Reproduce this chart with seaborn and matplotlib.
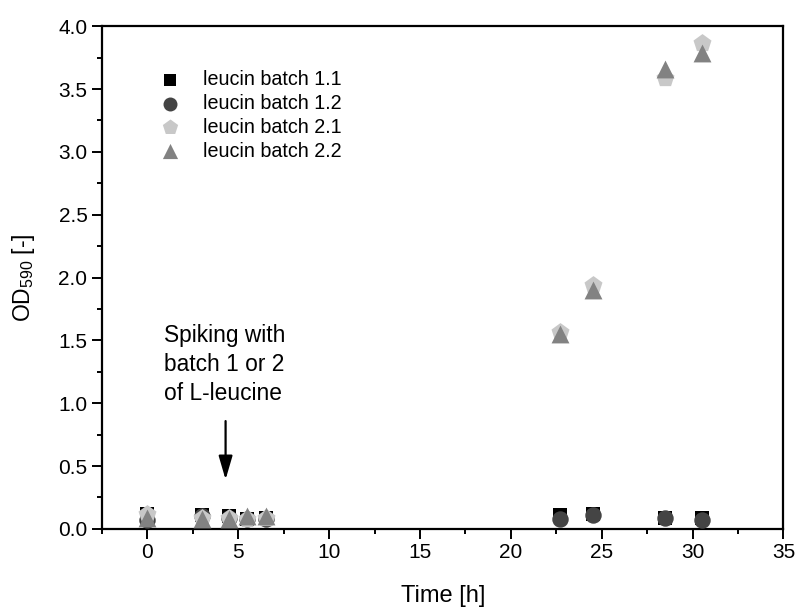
import numpy as np
import pandas as pd
import matplotlib
matplotlib.use("Agg")
import matplotlib.pyplot as plt
from matplotlib.ticker import MultipleLocator, FormatStrFormatter
import seaborn as sns

# Sampling times [h]
time_h = [0, 3, 4.5, 5.5, 6.5, 22.7, 24.5, 28.5, 30.5]

# OD590 per culture
od_batch_1_1 = [0.12, 0.11, 0.10, 0.08, 0.09, 0.11, 0.12, 0.09, 0.09]
od_batch_1_2 = [0.07, 0.10, 0.09, 0.08, 0.08, 0.08, 0.11, 0.09, 0.07]
od_batch_2_1 = [0.12, 0.09, 0.09, 0.08, 0.09, 1.57, 1.94, 3.59, 3.87]
od_batch_2_2 = [0.09, 0.08, 0.08, 0.10, 0.10, 1.55, 1.90, 3.66, 3.79]

series_names = ["leucin batch 1.1", "leucin batch 1.2",
                "leucin batch 2.1", "leucin batch 2.2"]
series_values = [od_batch_1_1, od_batch_1_2, od_batch_2_1, od_batch_2_2]

df = pd.DataFrame({
    "time": np.tile(time_h, len(series_names)),
    "od": np.concatenate(series_values),
    "series": np.repeat(series_names, len(time_h)),
})

sns.set_theme(style="white")
plt.rcParams["font.family"] = ["Liberation Sans", "DejaVu Sans"]
plt.rcParams["mathtext.fontset"] = "custom"
plt.rcParams["mathtext.rm"] = "Liberation Sans"
plt.rcParams["mathtext.it"] = "Liberation Sans:italic"
for key in ["text.color", "axes.labelcolor", "xtick.color", "ytick.color"]:
    plt.rcParams[key] = "black"

palette = {
    "leucin batch 1.1": "#000000",
    "leucin batch 1.2": "#444444",
    "leucin batch 2.1": "#c8c8c8",
    "leucin batch 2.2": "#828282",
}
markers = {
    "leucin batch 1.1": "s",
    "leucin batch 1.2": "o",
    "leucin batch 2.1": "p",
    "leucin batch 2.2": "^",
}
sizes = {"s": 115, "o": 140, "p": 185, "^": 165}

fig = plt.figure(figsize=(7.97, 6.10), dpi=100)
ax = fig.add_axes([0.128, 0.133, 0.855, 0.824])

for name in series_names:
    sub = df[df["series"] == name]
    sns.scatterplot(data=sub, x="time", y="od", ax=ax,
                    color=palette[name], marker=markers[name],
                    s=sizes[markers[name]], linewidth=0, label=name, zorder=3)

ax.set_xlim(-2.5, 35)
ax.set_ylim(0.0, 4.0)
ax.xaxis.set_major_locator(MultipleLocator(5))
ax.xaxis.set_minor_locator(MultipleLocator(2.5))
ax.yaxis.set_major_locator(MultipleLocator(0.5))
ax.yaxis.set_minor_locator(MultipleLocator(0.25))
ax.yaxis.set_major_formatter(FormatStrFormatter("%.1f"))

for side in ["left", "bottom", "top", "right"]:
    ax.spines[side].set_visible(True)
    ax.spines[side].set_color("black")
    ax.spines[side].set_linewidth(1.6)

ax.tick_params(axis="both", which="major", direction="out", length=7.5,
               width=1.4, color="black", labelsize=15, pad=3,
               bottom=True, left=True, top=False, right=False)
ax.tick_params(axis="both", which="minor", direction="out", length=3.5,
               width=1.4, color="black", bottom=True, left=True,
               top=False, right=False)

ax.set_xlabel("Time [h]", fontsize=17, labelpad=16)
ax.set_ylabel(r"OD$_{590}$ [-]", fontsize=16.5, labelpad=15)

handles, labels = ax.get_legend_handles_labels()
ax.legend(handles, labels, loc="upper left", bbox_to_anchor=(0.059, 0.929),
          frameon=False, fontsize=14.2, handletextpad=0.68, labelspacing=0.25,
          markerscale=0.85, borderaxespad=0)

ax.text(0.9, 1.63, "Spiking with\nbatch 1 or 2\nof L-leucine",
        fontsize=16.4, ha="left", va="top", linespacing=1.33)
ax.annotate("", xy=(4.3, 0.37), xytext=(4.3, 0.88),
            arrowprops=dict(arrowstyle="-|>,head_width=0.35,head_length=1.2",
                            color="black", lw=1.6))

fig.savefig("out.png", dpi=100, facecolor="white")
